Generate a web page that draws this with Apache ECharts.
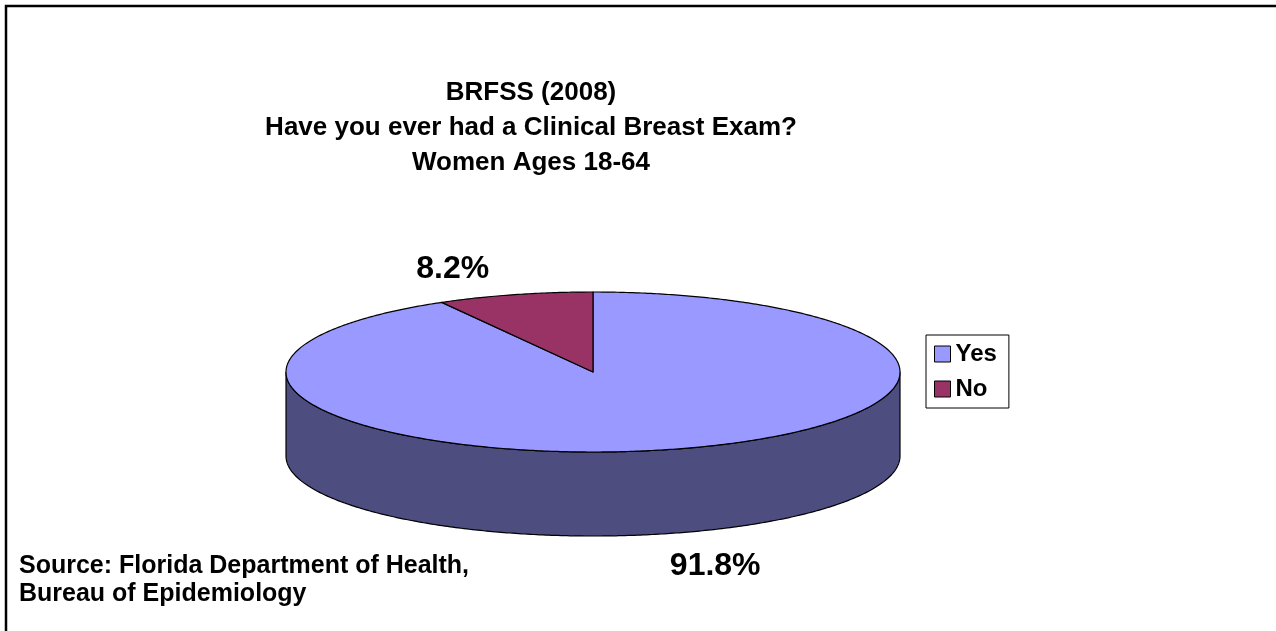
<!DOCTYPE html>
<html>
<head>
<meta charset="utf-8">
<script src="https://cdn.jsdelivr.net/npm/echarts@6/dist/echarts.min.js"></script>
<style>
  html, body { margin: 0; padding: 0; background: #fff; }
  #chart { width: 1276px; height: 631px; }
</style>
</head>
<body>
<div id="chart"></div>
<script>
// data
const categories = ['Yes', 'No'];
const percents = [91.8, 8.2];

// styles
const topColors = ['#9999FF', '#993366'];
const sideColors = ['#4D4D80', '#4D1A33'];
const FONT = '"Liberation Sans", Arial, sans-serif';

// pie layout (pixels)
const pie = {
  cx: 593, cy: 372, rx: 307, ry: 80, depth: 84,
  labelRx: 515, labelRy: 110, labelDx: -9, labelDy: 4
};

const total = percents.reduce((a, b) => a + b, 0);

// angle measured clockwise from 12 o'clock
const pt = (t, dy) => [pie.cx + pie.rx * Math.sin(t), pie.cy - pie.ry * Math.cos(t) + (dy || 0)];

const arc = (t0, t1, dy) => {
  const n = Math.max(2, Math.ceil(Math.abs(t1 - t0) / 0.01));
  const pts = [];
  for (let k = 0; k <= n; k++) {
    pts.push(pt(t0 + (t1 - t0) * k / n, dy));
  }
  return pts;
};

const sliceAngles = (idx) => {
  let before = 0;
  for (let i = 0; i < idx; i++) before += percents[i];
  const a0 = before / total * Math.PI * 2;
  const a1 = (before + percents[idx]) / total * Math.PI * 2;
  return [a0, a1];
};

const renderSlice = (idx) => (params, api) => {
  const [a0, a1] = sliceAngles(idx);
  const children = [];

  // visible part of the side wall (front half of the ellipse)
  const s0 = Math.max(a0, Math.PI / 2);
  const s1 = Math.min(a1, Math.PI * 1.5);
  if (s1 > s0) {
    const pts = arc(s0, s1, 0).concat(arc(s1, s0, pie.depth));
    children.push({
      type: 'polygon',
      shape: { points: pts },
      style: { fill: sideColors[idx], stroke: '#000', lineWidth: 1.2 }
    });
  }

  // top face
  const top = [[pie.cx, pie.cy]].concat(arc(a0, a1, 0));
  children.push({
    type: 'polygon',
    shape: { points: top },
    style: { fill: topColors[idx], stroke: '#000', lineWidth: 1.2, lineJoin: 'round' }
  });

  // percentage label placed outside the rim
  const mid = (a0 + a1) / 2;
  const front = Math.cos(mid) < 0;
  children.push({
    type: 'text',
    x: pie.cx + pie.labelDx + pie.labelRx * Math.sin(mid),
    y: pie.cy + pie.labelDy - pie.labelRy * Math.cos(mid) + (front ? pie.depth : 0),
    style: {
      text: api.value(0).toFixed(1) + '%',
      fill: '#000',
      font: 'bold 32px ' + FONT,
      align: 'center',
      verticalAlign: 'middle'
    }
  });

  return { type: 'group', children: children };
};

const chart = echarts.init(document.getElementById('chart'), null, { renderer: 'canvas' });

chart.setOption({
  backgroundColor: '#fff',
  animation: false,
  title: {
    text: 'BRFSS (2008)\nHave you ever had a Clinical Breast Exam?\nWomen Ages 18-64',
    left: 526,
    top: 70,
    textAlign: 'center',
    textStyle: {
      fontFamily: FONT,
      fontWeight: 'bold',
      fontSize: 26,
      lineHeight: 35,
      color: '#000'
    }
  },
  legend: {
    data: categories,
    orient: 'vertical',
    left: 926,
    top: 335,
    padding: [7, 12, 7, 8],
    itemGap: 11,
    itemWidth: 16,
    itemHeight: 16,
    icon: 'rect',
    borderColor: '#000',
    borderWidth: 1,
    itemStyle: { borderColor: '#000', borderWidth: 1 },
    textStyle: {
      fontFamily: FONT,
      fontWeight: 'bold',
      fontSize: 24,
      lineHeight: 24,
      color: '#000'
    }
  },
  series: categories.map((name, i) => ({
    type: 'custom',
    name: name,
    coordinateSystem: 'none',
    itemStyle: { color: topColors[i] },
    data: [[percents[i]]],
    renderItem: renderSlice(i)
  })),
  graphic: [
    {
      type: 'rect',
      shape: { x: 6, y: 6, width: 1400, height: 800 },
      style: { fill: 'none', stroke: '#000', lineWidth: 2.5 },
      silent: true
    },
    {
      type: 'text',
      left: 19,
      top: 552,
      style: {
        text: 'Source: Florida Department of Health,\nBureau of Epidemiology',
        font: 'bold 25px ' + FONT,
        lineHeight: 28,
        fill: '#000'
      }
    }
  ]
});
</script>
</body>
</html>
